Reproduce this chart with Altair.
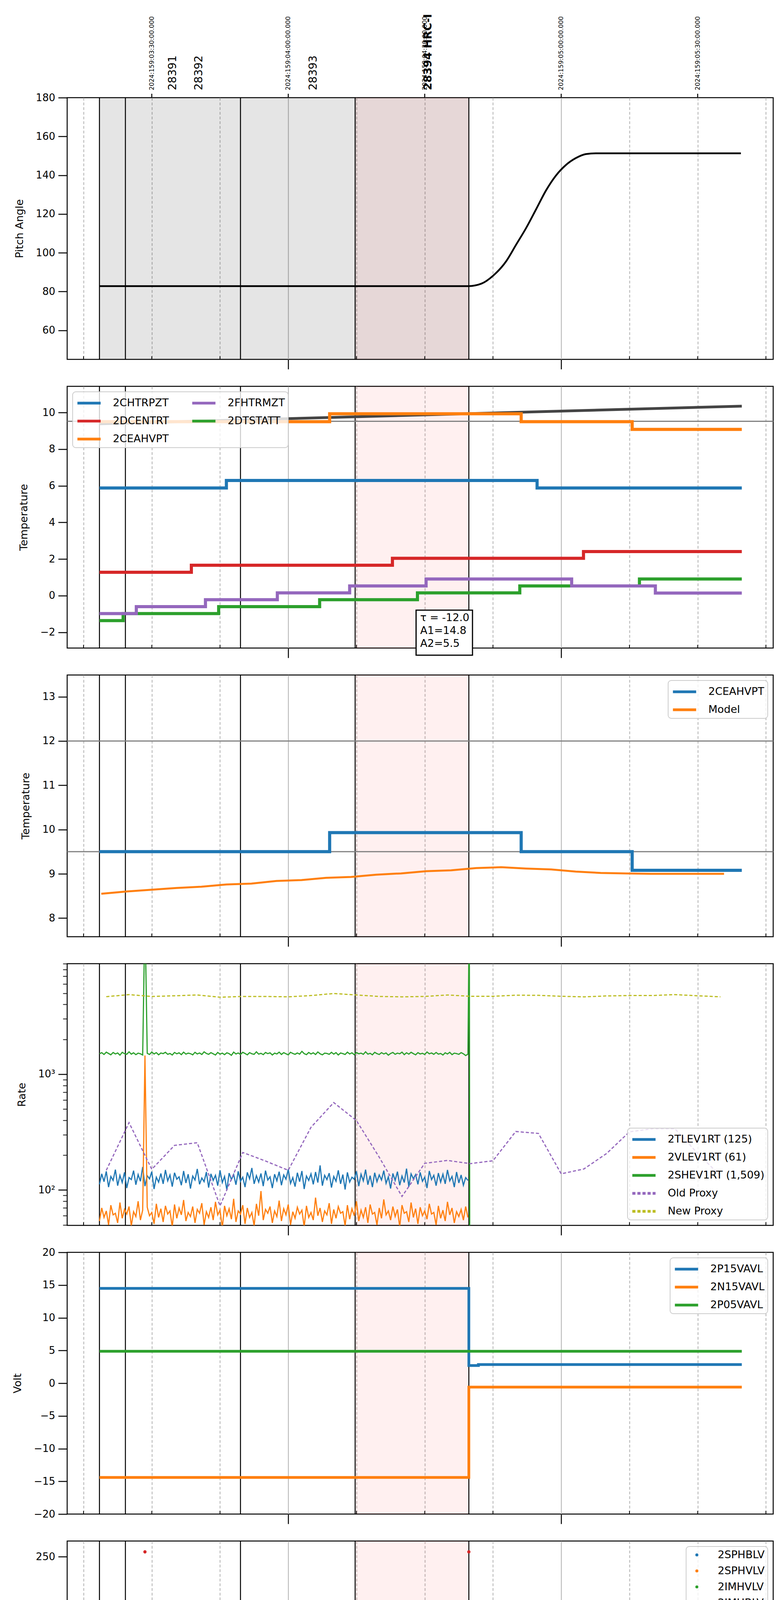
import altair as alt
import pandas as pd

W, H = 1808, 670
FONT = "DejaVu Sans"
X_DOMAIN = [-48.6, 106.6]          # minutes after 2024:159:04:00:00
XTITLE = "2024-06-07 (159)"
BLUE, ORANGE, GREEN, RED, PURPLE, OLIVE = ("#1f77b4", "#ff7f0e", "#2ca02c",
                                           "#d62728", "#9467bd", "#bcbd22")
LEG_LINE = "M-1.7,0L1.7,0"

# ------------------------------------------------------------ time guides
xtick_values = [-45, -30, -15, 0, 15, 30, 45, 60, 75, 90, 105]
xtick_labels = ["15", "30", "45", "00h", "15", "30", "45", "01h", "15", "30", "45"]
minor_ticks = [-45, -30, -15, 15, 30, 45, 75, 90, 105]
vline_t = [-41.5, -35.8, -10.5, 14.7, 39.7]
gray_span = [-41.5, 39.7]
pink_span = [14.7, 39.7]
top_tick_t = [-30, 0, 30, 60, 90]
top_tick_labels = ["2024:159:03:30:00.000", "2024:159:04:00:00.000",
                   "2024:159:04:30:00.000", "2024:159:05:00:00.000",
                   "2024:159:05:30:00.000"]
obsid_t = [-25.3, -19.6, 5.6]
obsid_labels = ["28391", "28392", "28393"]
hrc_t = [30.8]
hrc_labels = ["28394 HRC-I"]

# ------------------------------------------------------------ pitch
pitch_t = [-41.5, 39.7, 42.4, 45.1, 47.9, 50.1, 52.3, 54.5, 56.7, 58.8, 61.0, 63.2, 65.4, 67.6, 99.5]
pitch_v = [82.8, 82.8, 84.0, 88.3, 95.6, 104.2, 112.8, 122.5, 132.3, 139.7, 145.2, 148.8, 150.9, 151.3, 151.3]

# ------------------------------------------------------------ temperatures (steps)
chtrpzt_t = [-41.5, -13.6, 54.7, 99.7]
chtrpzt_v = [5.88, 6.29, 5.88, 5.88]
ceahvpt_t = [-41.5, 9.1, 51.2, 75.6, 99.7]
ceahvpt_v = [9.50, 9.93, 9.50, 9.08, 9.08]
dtstatt_t = [-41.5, -36.3, -15.3, 6.9, 28.4, 50.9, 77.2, 99.7]
dtstatt_v = [-1.36, -0.98, -0.60, -0.22, 0.15, 0.53, 0.91, 0.91]
dcentrt_t = [-41.5, -21.3, 22.9, 64.9, 99.7]
dcentrt_v = [1.28, 1.66, 2.04, 2.41, 2.41]
fhtrmzt_t = [-41.5, -33.4, -18.2, -2.4, 13.5, 30.3, 62.3, 80.7, 99.7]
fhtrmzt_v = [-0.98, -0.60, -0.22, 0.15, 0.53, 0.91, 0.53, 0.14, 0.14]
trend2_t = [-41.5, 99.7]
trend2_v = [9.38, 10.35]
limit2 = [9.52]
note_pos = [29.0, -0.93]
note_box = [28.1, 40.5, -0.79, -3.25]
note_text = "\u03c4 = -12.0\nA1=14.8\nA2=5.5"

model3_t = [-41.1, -35.6, -30.1, -24.6, -19.1, -13.6, -8.1, -2.6, 2.9, 8.3, 13.8, 19.3, 24.8,
            30.3, 35.8, 41.3, 46.8, 52.3, 57.8, 63.2, 68.7, 74.2, 79.7, 85.2, 90.7, 95.8]
model3_v = [8.55, 8.60, 8.64, 8.68, 8.71, 8.76, 8.78, 8.84, 8.86, 8.91, 8.93, 8.98, 9.01,
            9.06, 9.08, 9.13, 9.15, 9.12, 9.10, 9.05, 9.02, 9.01, 9.00, 9.00, 9.00, 9.00]
limits3 = [12.0, 9.5]

# ------------------------------------------------------------ rates (30 s samples)
t_half = [-41.5, -41.0, -40.5, -40.0, -39.5, -39.0, -38.5, -38.0, -37.5, -37.0,
          -36.5, -36.0, -35.5, -35.0, -34.5, -34.0, -33.5, -33.0, -32.5, -32.0,
          -31.5, -31.0, -30.5, -30.0, -29.5, -29.0, -28.5, -28.0, -27.5, -27.0,
          -26.5, -26.0, -25.5, -25.0, -24.5, -24.0, -23.5, -23.0, -22.5, -22.0,
          -21.5, -21.0, -20.5, -20.0, -19.5, -19.0, -18.5, -18.0, -17.5, -17.0,
          -16.5, -16.0, -15.5, -15.0, -14.5, -14.0, -13.5, -13.0, -12.5, -12.0,
          -11.5, -11.0, -10.5, -10.0, -9.5, -9.0, -8.5, -8.0, -7.5, -7.0,
          -6.5, -6.0, -5.5, -5.0, -4.5, -4.0, -3.5, -3.0, -2.5, -2.0,
          -1.5, -1.0, -0.5, 0.0, 0.5, 1.0, 1.5, 2.0, 2.5, 3.0,
          3.5, 4.0, 4.5, 5.0, 5.5, 6.0, 6.5, 7.0, 7.5, 8.0,
          8.5, 9.0, 9.5, 10.0, 10.5, 11.0, 11.5, 12.0, 12.5, 13.0,
          13.5, 14.0, 14.5, 15.0, 15.5, 16.0, 16.5, 17.0, 17.5, 18.0,
          18.5, 19.0, 19.5, 20.0, 20.5, 21.0, 21.5, 22.0, 22.5, 23.0,
          23.5, 24.0, 24.5, 25.0, 25.5, 26.0, 26.5, 27.0, 27.5, 28.0,
          28.5, 29.0, 29.5, 30.0, 30.5, 31.0, 31.5, 32.0, 32.5, 33.0,
          33.5, 34.0, 34.5, 35.0, 35.5, 36.0, 36.5, 37.0, 37.5, 38.0,
          38.5, 39.0, 39.5]
tlev_v = [112, 138, 118, 145, 106, 131, 121, 150, 109, 134,
          116, 142, 104, 128, 123, 147, 111, 136, 119, 158,
          108, 133, 125, 144, 102, 129, 117, 139, 113, 149,
          120, 135, 107, 141, 124, 130, 110, 146, 115, 137,
          103, 132, 122, 152, 112, 127, 118, 143, 105, 138,
          121, 134, 109, 148, 116, 131, 100, 140, 123, 136,
          111, 145, 119, 129, 106, 142, 125, 155, 113, 133,
          117, 139, 108, 147, 122, 130, 104, 137, 120, 144,
          110, 135, 124, 151, 114, 128, 107, 141, 118, 146,
          102, 132, 121, 138, 112, 143, 116, 163, 109, 134,
          123, 140, 105, 131, 119, 148, 113, 136, 101, 142,
          117, 129, 124, 145, 108, 137, 120, 150, 111, 133,
          106, 141, 118, 135, 122, 147, 114, 130, 103, 139,
          121, 144, 110, 132, 116, 153, 107, 138, 125, 136,
          112, 142, 119, 129, 104, 146, 123, 134, 109, 140,
          117, 137, 113, 149, 120, 131, 106, 143, 115, 135,
          110, 128, 121]
vlev_v = [54, 70, 58, 66, 50, 74, 61, 63, 52, 78,
          57, 68, 62, 72, 49, 65, 59, 80, 55, 67,
          1450, 71, 60, 64, 51, 76, 58, 69, 53, 73,
          62, 66, 48, 75, 57, 70, 61, 82, 54, 64,
          59, 72, 52, 68, 63, 77, 50, 65, 58, 71,
          55, 79, 61, 67, 47, 73, 60, 69, 56, 84,
          53, 66, 62, 74, 51, 70, 58, 64, 49, 76,
          60, 98, 55, 68, 63, 72, 52, 66, 59, 81,
          54, 69, 61, 75, 50, 65, 57, 71, 62, 67,
          48, 73, 58, 64, 55, 86, 60, 70, 53, 66,
          61, 77, 51, 68, 57, 72, 63, 65, 49, 74,
          56, 69, 60, 80, 54, 67, 58, 71, 52, 75,
          62, 64, 50, 70, 57, 83, 61, 66, 55, 72,
          59, 68, 48, 74, 63, 65, 53, 78, 58, 69,
          51, 71, 60, 66, 56, 76, 62, 64, 50, 73,
          57, 67, 54, 79, 61, 70, 52, 65, 59, 68,
          55, 72, 58]
shev_extra_t = [39.8, 39.9]
shev_v = [1500, 1535, 1480, 1550, 1510, 1470, 1540, 1495, 1525, 1460,
          1545, 1505, 1485, 1560, 1490, 1530, 1475, 1520, 1500, 1465,
          25000, 1515, 1480, 1555, 1495, 1535, 1470, 1525, 1505, 1545,
          1485, 1510, 1465, 1540, 1500, 1530, 1475, 1550, 1490, 1520,
          1505, 1470, 1545, 1495, 1525, 1480, 1560, 1510, 1485, 1535,
          1500, 1465, 1540, 1490, 1520, 1475, 1530, 1505, 1455, 1550,
          1495, 1525, 1480, 1545, 1510, 1470, 1535, 1500, 1485, 1560,
          1490, 1515, 1475, 1540, 1505, 1530, 1465, 1520, 1495, 1550,
          1480, 1535, 1500, 1470, 1545, 1510, 1485, 1525, 1490, 1575,
          1505, 1475, 1540, 1495, 1530, 1480, 1555, 1500, 1470, 1520,
          1510, 1485, 1545, 1490, 1535, 1465, 1525, 1505, 1480, 1550,
          1495, 1530, 1475, 1540, 1500, 1520, 1485, 1560, 1490, 1515,
          1470, 1545, 1505, 1480, 1535, 1495, 1525, 1460, 1510, 1540,
          1485, 1520, 1500, 1550, 1475, 1530, 1490, 1545, 1505, 1470,
          1535, 1495, 1515, 1480, 1555, 1500, 1525, 1485, 1540, 1490,
          1510, 1465, 1530, 1495, 1545, 1475, 1520, 1505, 1485, 1535,
          1500, 1450, 1490, 30000, 20]
proxy_t = [-40, -35, -30, -25, -20, -15, -10, -5, 0, 5, 10, 15, 20, 25,
           30, 35, 40, 45, 50, 55, 60, 65, 70, 75, 80, 85, 90, 95]
old_proxy_v = [148, 382, 151, 243, 256, 73, 211, 178, 148, 348, 569, 397, 192, 88,
               170, 180, 169, 179, 320, 308, 138, 152, 207, 318, 338, 338, 207, 133]
new_proxy_v = [4670, 4865, 4690, 4755, 4830, 4620, 4690, 4690, 4655, 4775, 4975, 4830, 4690, 4655,
               4690, 4830, 4705, 4705, 4810, 4795, 4705, 4655, 4740, 4775, 4775, 4865, 4755, 4655]
rate_major = [100, 1000]
rate_major_labels = ["10\u00b2", "10\u00b3"]
rate_ticks = [50, 60, 70, 80, 90, 100, 200, 300, 400, 500, 600, 700, 800, 900,
              1000, 2000, 3000, 4000, 5000, 6000, 7000, 8000, 9000]

# ------------------------------------------------------------ voltages
p15_t = [-41.5, 39.7, 41.8, 99.7]
p15_v = [14.5, 2.7, 2.85, 2.85]
n15_t = [-41.5, 39.7, 99.7]
n15_v = [-14.4, -0.6, -0.6]
p05_t = [-41.5, 99.7]
p05_v = [4.88, 4.88]

# ------------------------------------------------------------ HV monitor (1 min samples)
t_fast = [-41.5, -40.5, -39.5, -38.5, -37.5, -36.5, -35.5, -34.5, -33.5, -32.5,
          -31.5, -30.5, -29.5, -28.5, -27.5, -26.5, -25.5, -24.5, -23.5, -22.5,
          -21.5, -20.5, -19.5, -18.5, -17.5, -16.5, -15.5, -14.5, -13.5, -12.5,
          -11.5, -10.5, -9.5, -8.5, -7.5, -6.5, -5.5, -4.5, -3.5, -2.5,
          -1.5, -0.5, 0.5, 1.5, 2.5, 3.5, 4.5, 5.5, 6.5, 7.5,
          8.5, 9.5, 10.5, 11.5, 12.5, 13.5, 14.5, 15.5, 16.5, 17.5,
          18.5, 19.5, 20.5, 21.5, 22.5, 23.5, 24.5, 25.5, 26.5, 27.5,
          28.5, 29.5, 30.5, 31.5, 32.5, 33.5, 34.5, 35.5, 36.5, 37.5,
          38.5, 39.5]
imhvlv_v = [79.0, 79.8, 78.6, 79.5, 80.2, 78.9, 79.3, 80.0, 78.7, 79.6,
            79.1, 80.3, 78.8, 79.4, 79.9, 78.5, 79.2, 80.1, 79.0, 79.7,
            78.6, 79.5, 80.2, 79.1, 78.8, 79.8, 79.3, 80.0, 78.7, 79.4,
            79.9, 78.9, 79.6, 80.3, 79.0, 78.6, 79.5, 80.1, 79.2, 78.8,
            79.7, 80.0, 78.9, 79.4, 79.1, 80.2, 78.7, 79.6, 79.3, 79.9,
            78.8, 79.5, 80.1, 79.0, 78.6, 79.7, 80.3, 79.2, 78.9, 79.4,
            80.0, 79.1, 78.7, 79.8, 79.3, 80.2, 78.8, 79.5, 79.0, 79.9,
            78.6, 79.6, 80.1, 79.2, 78.9, 79.4, 80.0, 79.1, 78.7, 79.8,
            79.3, 79.0]
imhblv_v = [85.9, 86.0, 85.8, 85.9, 86.0, 85.9, 85.8, 86.0, 85.9, 85.9,
            86.0, 85.8, 85.9, 86.0, 85.9, 85.8, 85.9, 86.0, 85.9, 85.8,
            86.0, 85.9, 85.9, 85.8, 86.0, 85.9, 86.0, 85.8, 85.9, 85.9,
            86.0, 85.8, 85.9, 86.0, 85.9, 85.8, 86.0, 85.9, 85.9, 86.0,
            85.8, 85.9, 86.0, 85.9, 85.8, 85.9, 86.0, 85.9, 85.8, 86.0,
            85.9, 85.9, 86.0, 85.8, 85.9, 86.0, 85.9, 85.8, 85.9, 86.0,
            85.9, 85.8, 86.0, 85.9, 85.9, 85.8, 86.0, 85.9, 86.0, 85.8,
            85.9, 85.9, 86.0, 85.8, 85.9, 86.0, 85.9, 85.8, 85.9, 86.0,
            85.9, 85.9]
hv_out_t = [-31.5, 39.7]
hv_out_v = [255, 255]

# ------------------------------------------------------------ detector temps
spinatm_t = [-41.5, -8.1, 39.4]
spinatm_v = [3.14, 3.63, 3.63]
sphvatm_t = [-41.5, -25.5, 18.0, 21.0, 21.2, 39.4]
sphvatm_v = [16.70, 17.03, 17.40, 17.15, 17.40, 17.40]
iminatm_t = [-41.5, -24.0, 30.1, 40.3, 40.4]
iminatm_v = [1.28, 1.74, 2.20, 30.0, 30.0]
imhvatm_t = [-41.5, -31.6, -31.5, -24.6, 18.0, 39.4, 39.6, 39.9, 40.2]
imhvatm_v = [18.47, -10, 18.47, 18.84, 19.20, -10, 40, -10, -10]

# ------------------------------------------------------------ FEA temps
fradpyt_t = [-41.5, -39.6, -23.3, -6.0, 11.6, 29.6, 55.7, 99.7]
fradpyt_v = [-4.05, -3.68, -3.29, -2.90, -2.51, -2.13, -2.51, -2.51]
fepratm_t = [-41.5, -38.6, -31.6, -31.5, -20.6, -2.4, 17.6, 37.3, 39.4, 39.6]
fepratm_v = [0.80, 1.27, -0.60, 1.27, 1.73, 2.19, 2.66, 3.16, 1.00, 1.00]
fe00atm_t = [-41.5, -35.4, -35.2, -34.8, -32.7, -32.5, -31.6, -31.5, -22.4, -10.3, 2.6, 11.6,
             11.8, 15.5, 29.0, 31.1, 31.3, 31.9, 32.1, 39.4, 39.6, 39.9, 40.2]
fe00atm_v = [-0.98, -1.30, -0.98, -0.63, -0.98, -0.63, -10, -0.63, -0.32, 0.01, 0.35, 0.70,
             0.35, 0.68, 1.00, 0.63, 1.00, 0.63, 1.00, -10, 10, -10, -10]

MAJOR = "datum.value % 60 == 0"


def chain_expr(values, labels):
    expr = "''"
    for v, s in reversed(list(zip(values, labels))):
        expr = f"datum.value == {v} ? '{s}' : {expr}"
    return expr


def x_axis(bottom):
    kw = dict(values=xtick_values, grid=True, gridColor="#b0b0b0", gridWidth=2,
              gridDash={"condition": {"test": MAJOR, "value": [1, 0]}, "value": [7, 5]},
              domain=False, tickSize=25, tickWidth=2.5, tickColor="black",
              tickOpacity={"condition": {"test": MAJOR, "value": 1}, "value": 0},
              labels=bottom)
    if bottom:
        kw.update(labelExpr=chain_expr(xtick_values, xtick_labels), labelFlush=False,
                  labelFontSize={"condition": {"test": MAJOR, "value": 28}, "value": 18},
                  labelPadding={"condition": {"test": MAJOR, "value": 10}, "value": -20},
                  titleFontSize=33, titlePadding=6)
    return alt.Axis(**kw)


def X(bottom):
    scale = alt.Scale(domain=X_DOMAIN, nice=False, zero=False)
    if bottom:
        return alt.X("t:Q", scale=scale, axis=x_axis(True), title=XTITLE)
    return alt.X("t:Q", scale=scale, axis=x_axis(False), title=None)


def Y(title, domain, values, log=False, **axis_kw):
    kw = dict(values=values, grid=False, domain=False, tickSize=23, tickWidth=2.5,
              tickColor="black", labelPadding=8, titlePadding=27)
    kw.update(axis_kw)
    if log:
        scale = alt.Scale(type="log", domain=domain, nice=False)
    else:
        scale = alt.Scale(domain=domain, nice=False, zero=False)
    return alt.Y("v:Q", title=title, scale=scale, axis=alt.Axis(**kw))


def frame(*series):
    return pd.concat([pd.DataFrame({"t": t, "v": v, "series": n}) for n, t, v in series],
                     ignore_index=True)


LINE_LEGEND = dict(symbolType=LEG_LINE, symbolSize=1225, symbolStrokeWidth=7,
                   symbolOffset=13, labelOffset=40)


def colour(names, colors, **legend):
    opts = dict(LINE_LEGEND)
    opts.update(legend)
    return alt.Color("series:N", title=None, scale=alt.Scale(domain=names, range=colors),
                     legend=alt.Legend(**opts))


def panel(x, layers, gray=False):
    base = []
    if gray:
        base.append(alt.Chart(pd.DataFrame({"t": [gray_span[0]], "t2": [gray_span[1]]}))
                    .mark_rect(color="black", opacity=0.1).encode(x=x, x2="t2:Q"))
    base.append(alt.Chart(pd.DataFrame({"t": [pink_span[0]], "t2": [pink_span[1]]}))
                .mark_rect(color="red", opacity=0.06).encode(x=x, x2="t2:Q"))
    base.append(alt.Chart(pd.DataFrame({"t": vline_t}))
                .mark_rule(color="black", strokeWidth=2.5).encode(x=x))
    base.append(alt.Chart(pd.DataFrame({"t": minor_ticks}))
                .mark_rule(color="black", strokeWidth=2)
                .encode(x=x, y=alt.value(H - 8), y2=alt.value(H)))
    return alt.layer(*base, *layers).properties(width=W, height=H)


# ---------------------------------------------------------------- panel 1
x = X(False)
y = Y("Pitch Angle", [45, 180], [60, 80, 100, 120, 140, 160, 180])
pitch = alt.Chart(pd.DataFrame({"t": pitch_t, "v": pitch_v})).mark_line(
    color="black", strokeWidth=4.5, interpolate="monotone").encode(x=x, y=y)
tt = pd.DataFrame({"t": top_tick_t, "label": top_tick_labels})
top_ticks = alt.Chart(tt).mark_rule(color="black", strokeWidth=2.5).encode(
    x=x, y=alt.value(-10), y2=alt.value(0))
top_labels = alt.Chart(tt).mark_text(angle=270, align="left", baseline="middle", font=FONT,
                                     fontSize=16, color="black").encode(
    x=x, y=alt.value(-19), text="label:N")
obs = alt.Chart(pd.DataFrame({"t": obsid_t, "label": obsid_labels})).mark_text(
    angle=270, align="left", baseline="middle", font=FONT, fontSize=28, color="black").encode(
    x=x, y=alt.value(-19), text="label:N")
hrc = alt.Chart(pd.DataFrame({"t": hrc_t, "label": hrc_labels})).mark_text(
    angle=270, align="left", baseline="middle", font=FONT, fontSize=28, fontWeight="bold",
    color="black").encode(x=x, y=alt.value(-19), text="label:N")
p1 = panel(x, [pitch, top_ticks, top_labels, obs, hrc], gray=True)

# ---------------------------------------------------------------- panel 2
y = Y("Temperature", [-2.86, 11.43], [-2, 0, 2, 4, 6, 8, 10])
trend = alt.Chart(pd.DataFrame({"t": trend2_t, "v": trend2_v})).mark_line(
    color="#444444", strokeWidth=7).encode(x=x, y=y)
lim = alt.Chart(pd.DataFrame({"v": limit2})).mark_rule(color="gray", strokeWidth=3).encode(y=y)
t2_names = ["2CHTRPZT", "2DCENTRT", "2CEAHVPT", "2FHTRMZT", "2DTSTATT"]
t2_df = frame(("2CHTRPZT", chtrpzt_t, chtrpzt_v), ("2CEAHVPT", ceahvpt_t, ceahvpt_v),
              ("2DTSTATT", dtstatt_t, dtstatt_v), ("2DCENTRT", dcentrt_t, dcentrt_v),
              ("2FHTRMZT", fhtrmzt_t, fhtrmzt_v))
t2_lines = alt.Chart(t2_df).mark_line(interpolate="step-after", strokeWidth=8, clip=True).encode(
    x=x, y=y, color=colour(t2_names, [BLUE, RED, ORANGE, PURPLE, GREEN],
                           orient="top-left", columns=2, columnPadding=45))
box = alt.Chart(pd.DataFrame({"t": [note_box[0]], "t2": [note_box[1]], "v": [note_box[2]],
                              "v2": [note_box[3]]})).mark_rect(
    fill="white", stroke="black", strokeWidth=3).encode(x=x, x2="t2:Q", y=y, y2="v2:Q")
note = alt.Chart(pd.DataFrame({"t": [note_pos[0]], "v": [note_pos[1]], "label": [note_text]})).mark_text(
    align="left", baseline="top", font=FONT, fontSize=27, lineBreak="\n", lineHeight=33,
    color="black").encode(x=x, y=y, text="label:N")
p2 = panel(x, [trend, lim, t2_lines, box, note])

# ---------------------------------------------------------------- panel 3
y = Y("Temperature", [7.58, 13.49], [8, 9, 10, 11, 12, 13])
lims = alt.Chart(pd.DataFrame({"v": limits3})).mark_rule(color="gray", strokeWidth=3).encode(y=y)
c3 = colour(["2CEAHVPT", "Model"], [BLUE, ORANGE], orient="top-right")
meas = alt.Chart(frame(("2CEAHVPT", ceahvpt_t, ceahvpt_v))).mark_line(
    interpolate="step-after", strokeWidth=8).encode(x=x, y=y, color=c3)
model = alt.Chart(frame(("Model", model3_t, model3_v))).mark_line(strokeWidth=5).encode(
    x=x, y=y, color=c3)
p3 = panel(x, [lims, meas, model])

# ---------------------------------------------------------------- panel 4
rate_names = ["2TLEV1RT (125)", "2VLEV1RT (61)", "2SHEV1RT (1,509)", "Old Proxy", "New Proxy"]
rate_df = frame((rate_names[0], t_half, tlev_v), (rate_names[1], t_half, vlev_v),
                (rate_names[2], t_half + shev_extra_t, shev_v),
                (rate_names[3], proxy_t, old_proxy_v), (rate_names[4], proxy_t, new_proxy_v))
rate_test = " || ".join(f"datum.value == {v}" for v in rate_major)
y = Y("Rate", [49.5, 9000], rate_ticks, log=True,
      labelExpr=chain_expr(rate_major, rate_major_labels), labelOverlap=False,
      tickSize={"condition": {"test": rate_test, "value": 23}, "value": 11},
      tickWidth={"condition": {"test": rate_test, "value": 2.5}, "value": 1.8})
leg4 = dict(LINE_LEGEND, orient="bottom-right")
rates = alt.Chart(rate_df).mark_line(strokeWidth=3, clip=True).encode(
    x=x, y=y,
    color=alt.Color("series:N", title=None,
                    scale=alt.Scale(domain=rate_names, range=[BLUE, ORANGE, GREEN, PURPLE, OLIVE]),
                    legend=alt.Legend(**leg4)),
    strokeDash=alt.StrokeDash("series:N", title=None,
                              scale=alt.Scale(domain=rate_names,
                                              range=[[1, 0], [1, 0], [1, 0], [8, 5], [8, 5]]),
                              legend=alt.Legend(**leg4)))
p4 = panel(x, [rates])

# ---------------------------------------------------------------- panel 5
y = Y("Volt", [-20, 20], [-20, -15, -10, -5, 0, 5, 10, 15, 20])
v_df = frame(("2P15VAVL", p15_t, p15_v), ("2N15VAVL", n15_t, n15_v), ("2P05VAVL", p05_t, p05_v))
volts = alt.Chart(v_df).mark_line(interpolate="step-after", strokeWidth=7).encode(
    x=x, y=y, color=colour(["2P15VAVL", "2N15VAVL", "2P05VAVL"], [BLUE, ORANGE, GREEN],
                           orient="top-right"))
p5 = panel(x, [volts])

# ---------------------------------------------------------------- panel 6
y = Y("HV Monitor", [0, 266], [0, 50, 100, 150, 200, 250])
hv_green = alt.Chart(pd.DataFrame({"t": t_fast, "v": imhvlv_v})).mark_line(
    color=GREEN, strokeWidth=10).encode(x=x, y=y)
hv_red = alt.Chart(pd.DataFrame({"t": t_fast, "v": imhblv_v})).mark_line(
    color=RED, strokeWidth=9).encode(x=x, y=y)
hv_df = frame(("2IMHVLV", t_fast, imhvlv_v), ("2IMHBLV", t_fast + hv_out_t, imhblv_v + hv_out_v))
hv_pts = alt.Chart(hv_df).mark_circle(size=70, opacity=1).encode(
    x=x, y=y, color=colour(["2SPHBLV", "2SPHVLV", "2IMHVLV", "2IMHBLV"],
                           [BLUE, ORANGE, GREEN, RED], orient="top-right",
                           symbolType="circle", symbolSize=60, symbolStrokeWidth=0,
                           symbolOffset=6, labelOffset=40, rowPadding=13))
p6 = panel(x, [hv_green, hv_red, hv_pts])

# ---------------------------------------------------------------- panel 7
y = Y("Detector Temp", [0.24, 20.67], [2.5, 5, 7.5, 10, 12.5, 15, 17.5, 20], format=".1f")
d_df = frame(("2SPINATM", spinatm_t, spinatm_v), ("2SPHVATM", sphvatm_t, sphvatm_v),
             ("2IMINATM", iminatm_t, iminatm_v), ("2IMHVATM", imhvatm_t, imhvatm_v))
det = alt.Chart(d_df).mark_line(interpolate="step-after", strokeWidth=8, clip=True).encode(
    x=x, y=y, color=colour(["2SPINATM", "2SPHVATM", "2IMINATM", "2IMHVATM"],
                           [BLUE, ORANGE, GREEN, RED], orient="top-right"))
p7 = panel(x, [det])

# ---------------------------------------------------------------- panel 8
xb = X(True)
y = Y("FEA Temp", [-4.79, 4.16], [-4, -3, -2, -1, 0, 1, 2, 3, 4])
f_df = frame(("2FHTRMZT", fhtrmzt_t, fhtrmzt_v), ("2FRADPYT", fradpyt_t, fradpyt_v),
             ("2FEPRATM", fepratm_t, fepratm_v), ("2FE00ATM", fe00atm_t, fe00atm_v))
fea = alt.Chart(f_df).mark_line(interpolate="step-after", strokeWidth=8, clip=True).encode(
    x=xb, y=y, color=colour(["2FHTRMZT", "2FRADPYT", "2FEPRATM", "2FE00ATM"],
                            [BLUE, ORANGE, GREEN, RED], orient="top-right"))
p8 = panel(xb, [fea])

chart = alt.vconcat(p1, p2, p3, p4, p5, p6, p7, p8, spacing=69, bounds="flush").resolve_scale(
    color="independent", strokeDash="independent"
).configure_view(stroke="black", strokeWidth=2.5).configure_axis(
    labelFont=FONT, titleFont=FONT, labelFontSize=26, titleFontSize=27,
    titleFontWeight="normal", labelColor="black", titleColor="black"
).configure_legend(
    labelFont=FONT, labelFontSize=27, labelColor="black", labelLimit=400,
    fillColor="rgba(255,255,255,0.8)", strokeColor="#cccccc", strokeWidth=2,
    cornerRadius=8, padding=8, rowPadding=11, offset=14
).properties(padding={"left": 18, "top": 26, "right": 6, "bottom": 4}, background="white")

chart.save("out.html", embed_options={"renderer": "svg", "actions": False})
